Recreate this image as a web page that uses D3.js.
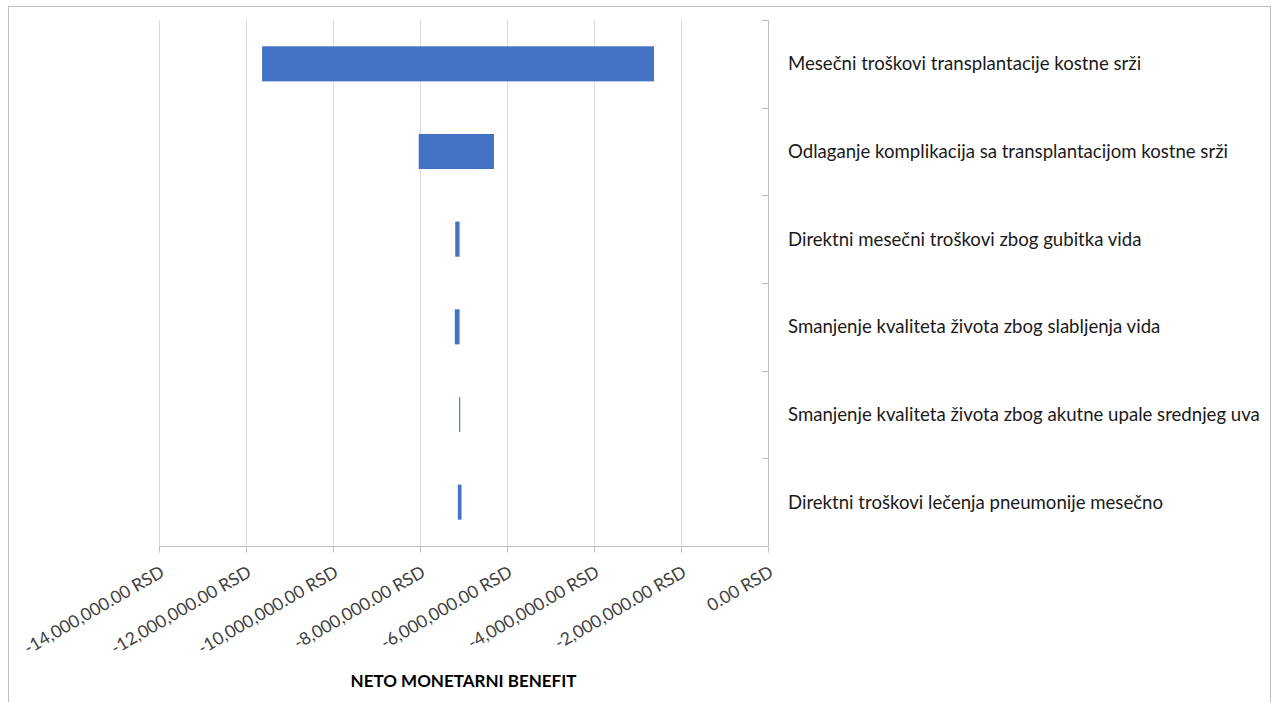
<!DOCTYPE html>
<html>
<head>
<meta charset="utf-8">
<script src="https://cdn.jsdelivr.net/npm/d3@7"></script>
<style>
  html, body { margin: 0; padding: 0; background: #fff; }
  svg { display: block; }
  text { font-family: Lato, "Open Sans", sans-serif; }
</style>
</head>
<body>
<svg id="chart" width="1273" height="702"></svg>
<script>
// ---- data ----
const categories = [
  "Mesečni troškovi transplantacije kostne srži",
  "Odlaganje komplikacija sa transplantacijom kostne srži",
  "Direktni mesečni troškovi zbog gubitka vida",
  "Smanjenje kvaliteta života zbog slabljenja vida",
  "Smanjenje kvaliteta života zbog akutne upale srednjeg uva",
  "Direktni troškovi lečenja pneumonije mesečno"
];
const lowValues  = [-11630000, -8030000, -7190000, -7200000, -7100000, -7130000];
const highValues = [-2620000, -6300000, -7090000, -7090000, -7075000, -7045000];
const tickValues = [-14000000, -12000000, -10000000, -8000000, -6000000, -4000000, -2000000, 0];
const axisTitle = "NETO MONETARNI BENEFIT";

// ---- layout ----
const svg = d3.select("#chart");
const plot = { left: 159, right: 768, top: 20, bottom: 546 };

// outer chart border
svg.append("rect")
  .attr("x", 8.5).attr("y", 6.5)
  .attr("width", 1262).attr("height", 720)
  .attr("fill", "none").attr("stroke", "#bfbfbf").attr("stroke-width", 1);

const x = d3.scaleLinear().domain([-14000000, 0]).range([plot.left, plot.right]);
const y = d3.scaleBand().domain(categories).range([plot.top, plot.bottom]).padding(0);

// gridlines
svg.append("g").selectAll("line")
  .data(tickValues.filter(v => v !== 0))
  .join("line")
  .attr("x1", d => Math.round(x(d)) + 0.5).attr("x2", d => Math.round(x(d)) + 0.5)
  .attr("y1", plot.top).attr("y2", plot.bottom)
  .attr("stroke", "#d9d9d9").attr("stroke-width", 1);

// bars
const barH = y.bandwidth() * 0.4;
svg.append("g").selectAll("rect")
  .data(categories.map((c, i) => ({ c, lo: lowValues[i], hi: highValues[i] })))
  .join("rect")
  .attr("x", d => x(d.lo))
  .attr("width", d => Math.max(0.5, x(d.hi) - x(d.lo)))
  .attr("y", d => y(d.c) + (y.bandwidth() - barH) / 2)
  .attr("height", barH)
  .attr("fill", "#4472c4");

// bottom axis
const fmt = d3.format(",.2f");
const xAxis = d3.axisBottom(x).tickValues(tickValues).tickSize(6)
  .tickFormat(d => fmt(d).replace("\u2212", "-") + " RSD");
const gx = svg.append("g").attr("transform", `translate(0,${plot.bottom + 0.5})`).call(xAxis);
gx.select(".domain").attr("stroke", "#bfbfbf").attr("d", `M${plot.left},0H${plot.right}`);
gx.selectAll(".tick line").attr("stroke", "#bfbfbf");
gx.selectAll(".tick text")
  .attr("fill", "#404040")
  .style("font-size", "17.5px")
  .attr("text-anchor", "end")
  .attr("dy", null).attr("y", null)
  .attr("transform", "translate(6,29) rotate(-30)");

// right axis (category boundary ticks inward)
const gr = svg.append("g");
gr.append("line")
  .attr("x1", plot.right + 0.5).attr("x2", plot.right + 0.5)
  .attr("y1", plot.top).attr("y2", plot.bottom)
  .attr("stroke", "#bfbfbf");
const boundaries = categories.map(c => y(c)).concat([plot.bottom]);
gr.selectAll("line.b").data(boundaries).join("line").attr("class", "b")
  .attr("x1", plot.right - 6).attr("x2", plot.right)
  .attr("y1", d => Math.round(d) + 0.5).attr("y2", d => Math.round(d) + 0.5)
  .attr("stroke", "#bfbfbf");

// category labels
svg.append("g").selectAll("text")
  .data(categories)
  .join("text")
  .attr("x", 788)
  .attr("y", d => y(d) + y.bandwidth() / 2)
  .attr("dy", "0.35em")
  .attr("fill", "#1a1a1a")
  .style("font-size", "18.6px")
  .text(d => d);

// axis title
svg.append("text")
  .attr("x", (plot.left + plot.right) / 2)
  .attr("y", 687)
  .attr("text-anchor", "middle")
  .style("font-size", "17px")
  .style("font-weight", "bold")
  .attr("fill", "#000")
  .text(axisTitle);
</script>
</body>
</html>
